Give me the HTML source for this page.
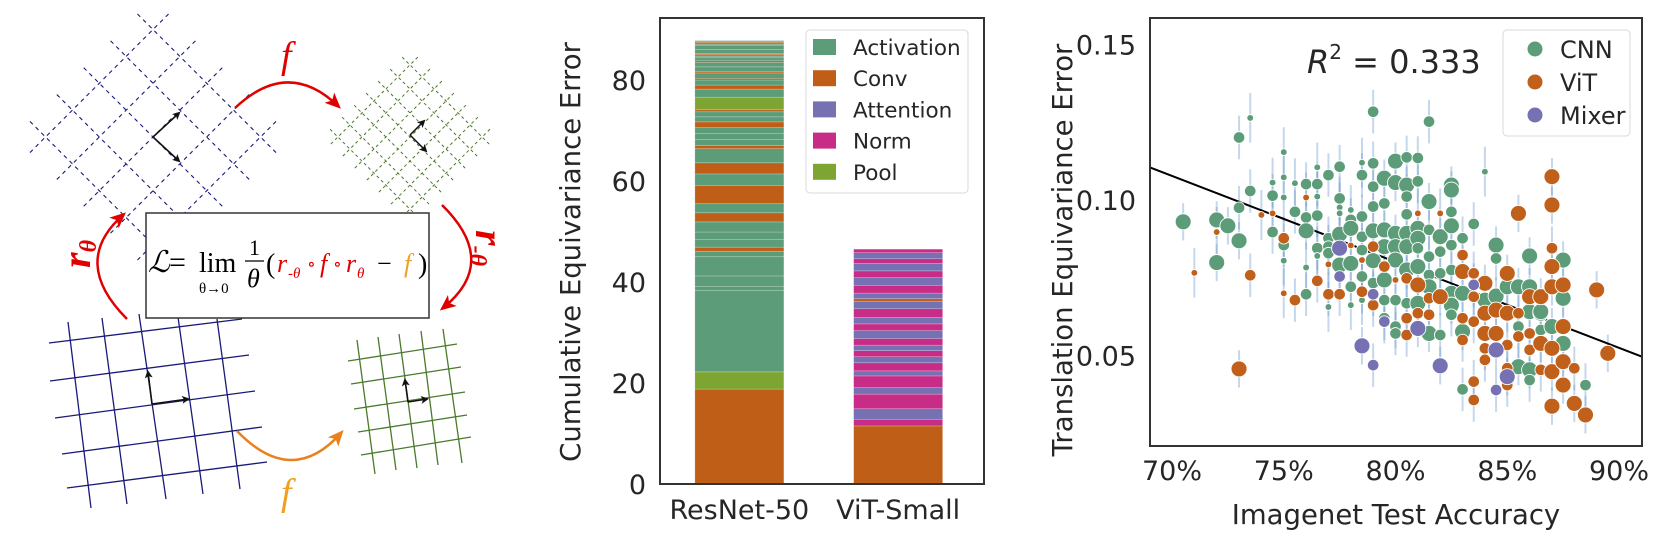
<!DOCTYPE html>
<html><head><meta charset="utf-8">
<style>
html,body{margin:0;padding:0;background:#fff;}
svg{display:block;}
text{font-family:"DejaVu Sans","Liberation Sans",sans-serif;fill:#262626;}
.serif{font-family:"Liberation Serif","DejaVu Serif",serif;}
</style></head>
<body>
<svg id="root" width="1663" height="543" viewBox="0 0 1663 543" xmlns="http://www.w3.org/2000/svg">
<defs>
<marker id="ah" markerWidth="8" markerHeight="8" refX="6" refY="4" orient="auto" markerUnits="userSpaceOnUse"><path d="M0,0 L8,4 L0,8 L2,4 z" fill="#111"/></marker>
<marker id="ahr" markerWidth="16" markerHeight="14" refX="12" refY="7" orient="auto" markerUnits="userSpaceOnUse"><path d="M0,0 L16,7 L0,14 L4,7 z" fill="#e00000"/></marker>
<marker id="aho" markerWidth="16" markerHeight="14" refX="12" refY="7" orient="auto" markerUnits="userSpaceOnUse"><path d="M0,0 L16,7 L0,14 L4,7 z" fill="#e8821e"/></marker>
</defs>

<g>
  <g id="blueDashed" transform="translate(153,137) rotate(45)" stroke="#1a1a78" stroke-width="1.1" stroke-dasharray="4,4"></g>
  <g id="greenDashed" transform="translate(410,137) rotate(45)" stroke="#4a7a2a" stroke-width="1" stroke-dasharray="3,3"></g>
  <line x1="153" y1="137" x2="179" y2="113" stroke="#111" stroke-width="1.6" marker-end="url(#ah)"/>
  <line x1="153" y1="137" x2="179" y2="161" stroke="#111" stroke-width="1.6" marker-end="url(#ah)"/>
  <line x1="410" y1="135" x2="424" y2="121" stroke="#111" stroke-width="1.5" marker-end="url(#ah)"/>
  <line x1="410" y1="135" x2="426" y2="151" stroke="#111" stroke-width="1.5" marker-end="url(#ah)"/>

  <g stroke="#1a1a78" stroke-width="1.3">
    <line x1="49" y1="343" x2="242" y2="319"/><line x1="50" y1="381" x2="249" y2="355"/>
    <line x1="55" y1="418" x2="255" y2="391"/><line x1="62" y1="454" x2="262" y2="427"/>
    <line x1="67" y1="488" x2="267" y2="462"/>
    <line x1="68" y1="322" x2="91" y2="508"/><line x1="102" y1="318" x2="127" y2="504"/>
    <line x1="139" y1="314" x2="166" y2="499"/><line x1="178" y1="317" x2="203" y2="494"/>
    <line x1="217" y1="319" x2="240" y2="489"/>
  </g>
  <line x1="152" y1="404" x2="148" y2="372" stroke="#111" stroke-width="1.6" marker-end="url(#ah)"/>
  <line x1="152" y1="404" x2="188" y2="399" stroke="#111" stroke-width="1.6" marker-end="url(#ah)"/>

  <g stroke="#4a7a2a" stroke-width="1.3">
    <line x1="348" y1="361" x2="457" y2="344"/><line x1="351" y1="384" x2="461" y2="367"/>
    <line x1="354" y1="409" x2="465" y2="392"/><line x1="358" y1="432" x2="467" y2="415"/>
    <line x1="361" y1="455" x2="471" y2="437"/>
    <line x1="357" y1="340" x2="375" y2="474"/><line x1="378" y1="337" x2="396" y2="470"/>
    <line x1="399" y1="334" x2="417" y2="468"/><line x1="421" y1="331" x2="438" y2="465"/>
    <line x1="443" y1="329" x2="462" y2="463"/>
  </g>
  <line x1="408" y1="402" x2="405" y2="380" stroke="#111" stroke-width="1.6" marker-end="url(#ah)"/>
  <line x1="408" y1="402" x2="427" y2="399" stroke="#111" stroke-width="1.6" marker-end="url(#ah)"/>

  <path d="M235,108 Q288,58 338,106" fill="none" stroke="#e00000" stroke-width="2.5" marker-end="url(#ahr)"/>
  <text x="281" y="68" class="serif" font-size="38" font-style="italic" style="fill:#e00000">f</text>
  <path d="M237,431 Q292,488 341,433" fill="none" stroke="#e8821e" stroke-width="2.5" marker-end="url(#aho)"/>
  <text x="281" y="505" class="serif" font-size="38" font-style="italic" style="fill:#f0a020">f</text>
  <path d="M127,319 Q70,262 123,215" fill="none" stroke="#e00000" stroke-width="2.5" marker-end="url(#ahr)"/>
  <text class="serif" font-size="40" font-style="italic" font-weight="bold" style="fill:#e00000" transform="translate(90,268) rotate(-90)">r<tspan font-size="24" dy="6">θ</tspan></text>
  <path d="M442,205 Q500,262 443,308" fill="none" stroke="#e00000" stroke-width="2.5" marker-end="url(#ahr)"/>
  <text class="serif" font-size="40" font-style="italic" font-weight="bold" style="fill:#e00000" transform="translate(476,230) rotate(90)">r<tspan font-size="24" dy="6">-θ</tspan></text>

  <rect x="146" y="213" width="283" height="105" fill="#fff" stroke="#333" stroke-width="1.5"/>
  <g>
    <text x="148" y="272" class="serif" font-size="30" font-style="italic" style="fill:#000">ℒ</text>
    <text x="169" y="272" class="serif" font-size="30" style="fill:#000">=</text>
    <text x="199" y="272" class="serif" font-size="28" style="fill:#000">lim</text>
    <text x="199" y="293" class="serif" font-size="15" style="fill:#000">θ→0</text>
    <text x="249" y="255" class="serif" font-size="22" style="fill:#000">1</text>
    <line x1="245" y1="261" x2="264" y2="261" stroke="#000" stroke-width="1.2"/>
    <text x="247" y="287" class="serif" font-size="26" font-style="italic" style="fill:#000">θ</text>
    <text x="266" y="273" class="serif" font-size="28" style="fill:#000">(</text>
    <text x="277" y="272" class="serif" font-size="26" font-style="italic" style="fill:#e00000">r</text>
    <text x="288" y="278" class="serif" font-size="15" font-style="italic" style="fill:#e00000">-θ</text>
    <text x="307" y="270" class="serif" font-size="18" style="fill:#e00000">∘</text>
    <text x="320" y="272" class="serif" font-size="26" font-style="italic" style="fill:#e00000">f</text>
    <text x="333" y="270" class="serif" font-size="18" style="fill:#e00000">∘</text>
    <text x="346" y="272" class="serif" font-size="26" font-style="italic" style="fill:#e00000">r</text>
    <text x="357" y="278" class="serif" font-size="15" font-style="italic" style="fill:#e00000">θ</text>
    <text x="377" y="272" class="serif" font-size="26" style="fill:#000">−</text>
    <text x="404" y="272" class="serif" font-size="26" font-style="italic" style="fill:#f0a020">f</text>
    <text x="418" y="273" class="serif" font-size="28" style="fill:#000">)</text>
  </g>
</g>

<g id="barChart"></g>
<g id="scatter"></g>
</svg>

<script>
const NS = "http://www.w3.org/2000/svg";
function mk(tag, attrs, parent){ const e=document.createElementNS(NS,tag); for(const k in attrs) e.setAttribute(k,attrs[k]); parent.appendChild(e); return e; }

(function(){
  const gB=document.getElementById('blueDashed');
  for(let i=-2;i<=2;i++){ const o=i*38;
    mk('line',{x1:o,y1:-98,x2:o,y2:98},gB); mk('line',{x1:-98,y1:o,x2:98,y2:o},gB); }
  const gG=document.getElementById('greenDashed');
  for(let i=-3;i<=3;i++){ const o=i*17;
    mk('line',{x1:o,y1:-62,x2:o,y2:62},gG); mk('line',{x1:-62,y1:o,x2:62,y2:o},gG); }
})();

const barCategories = ["ResNet-50","ViT-Small"];
const layerTypes = ["Activation","Conv","Attention","Norm","Pool"];
const resnetTypes = ["Conv","Pool","Activation","Activation","Activation","Activation","Activation","Conv","Activation","Activation","Activation","Conv","Activation","Conv","Activation","Conv","Activation","Conv","Activation","Activation","Activation","Conv","Activation","Activation","Conv","Pool","Activation","Conv","Activation","Conv","Activation","Conv","Activation","Activation","Conv","Activation","Conv","Activation","Conv","Activation","Activation","Conv","Activation","Conv","Activation"];
const resnetErrors = [18.8,3.4,16.1,0.8,2.1,3.8,1.1,0.8,1.5,1.5,2.0,1.8,1.8,3.6,2.3,2.2,2.8,0.6,1.2,1.2,1.2,1.1,1.0,1.0,0.4,2.5,1.6,0.8,1.0,0.3,1.1,0.3,0.9,0.9,0.3,0.6,0.2,0.4,0.2,0.8,0.8,0.2,0.4,0.2,0.2];
const vitTypes = ["Conv","Norm","Attention","Norm","Attention","Norm","Attention","Norm","Attention","Norm","Attention","Norm","Attention","Norm","Attention","Norm","Attention","Conv","Attention","Norm","Attention","Norm","Attention","Norm","Attention","Norm"];
const vitErrors = [11.5,1.3,2.1,2.9,1.3,2.3,1.0,1.6,1.2,1.2,1.1,1.3,1.6,1.3,1.3,1.7,1.5,0.5,1.1,1.5,1.6,1.3,1.5,0.9,1.2,0.7];
const barYTicks = [0,20,40,60,80];
const typeColors = {Activation:"#5c9c78",Conv:"#bf5f17",Attention:"#7571b2",Norm:"#c72c86",Pool:"#7ea531"};

(function(){
  const g=document.getElementById('barChart');
  const L=660,R=984,T=18,B=484, yMax=(B-T)/5.05;
  const yS=v=>B-(v/yMax)*(B-T);
  const xCenter=i=>L+(R-L)*(0.245+i*0.49);
  const bw=89;
  const stacks=[[resnetTypes,resnetErrors],[vitTypes,vitErrors]];
  stacks.forEach((s,i)=>{
    let cum=0;
    const bg=mk('g',{},g);
    
    
    s[1].forEach((v,j)=>{
      const y0=yS(cum), y1=yS(cum+v);
      const r=mk('rect',{x:xCenter(i)-bw/2,y:y1,width:bw,height:Math.max(0.6,y0-y1),fill:typeColors[s[0][j]],stroke:"rgba(255,255,255,0.35)","stroke-width":0.6},bg);
      
      
      cum+=v;
    });
    const t=mk('text',{x:xCenter(i),y:519,"font-size":27,"text-anchor":"middle"},g);
    t.textContent=barCategories[i];
    
    
  });
  barYTicks.forEach(v=>{
    const t=mk('text',{x:646,y:yS(v)+10,"font-size":27,"text-anchor":"end"},g);
    t.textContent=v;
    
    
  });
  const fr=mk('rect',{x:L,y:T,width:R-L,height:B-T,fill:"none",stroke:"#333","stroke-width":2},g);
  
  
  const yl=mk('text',{"font-size":27.5,"text-anchor":"middle",transform:"translate(580,252) rotate(-90)"},g);
  yl.textContent="Cumulative Equivariance Error";
  
  
  const lg=mk('g',{},g);
  
  
  mk('rect',{x:806,y:30,width:162,height:163,rx:4,fill:"#fff",stroke:"#d8d8d8","stroke-width":1},lg);
  layerTypes.forEach((n,i)=>{
    const yy=47+i*31.2;
    const sw=mk('rect',{x:813,y:yy-8,width:23,height:16,fill:typeColors[n]},lg);
    
    
    const t=mk('text',{x:853,y:yy+8,"font-size":21.5},lg);
    t.textContent=n;
    
    
  });
})();

const xTicks = [70,75,80,85,90];
const yTicks = [0.05,0.10,0.15];
const fitX = [69.0,91.0];
const fitY = [0.1105,0.0497];
const r2Label = "0.333";
const cnnPoints = [[70.5,.0930,'L'],[72,.0936,'L'],[72.5,.0917,'L'],[73,.0869,'L'],[72,.0799,'L'],[73,.1201,'m'],[73.5,.1264,'s'],[73.5,.1029,'m'],[73,.0975,'m'],[74.5,.1056,'s'],[74.5,.1014,'m'],[74.5,.0897,'m'],[75,.1154,'s'],[75,.1073,'s'],[75,.1008,'s'],[75,.0855,'m'],[75,.0805,'s'],[75.5,.1054,'s'],[75.5,.0962,'m'],[76,.1051,'m'],[76,.0944,'m'],[76,.0901,'L'],[76,.0783,'s'],[76,.0697,'m'],[76.5,.1105,'s'],[76.5,.1051,'m'],[76.5,.1011,'s'],[76.5,.0950,'m'],[76.5,.0845,'m'],[76.5,.0820,'s'],[77,.1080,'m'],[77,.0877,'m'],[77,.0850,'m'],[77,.0829,'m'],[77,.0656,'s'],[77.5,.1107,'m'],[77.5,.1005,'m'],[77.5,.0976,'s'],[77.5,.0957,'s'],[77.5,.0890,'L'],[77.5,.0791,'L'],[78,.0968,'s'],[78,.0936,'m'],[78,.0909,'L'],[78,.0796,'L'],[78,.0721,'m'],[78,.0662,'s'],[78.5,.1120,'s'],[78.5,.1080,'m'],[78.5,.0947,'m'],[78.5,.0882,'m'],[78.5,.0839,'m'],[78.5,.0754,'m'],[78.5,.0678,'s'],[79,.1284,'m'],[79,.1118,'m'],[79,.1043,'m'],[79,.0979,'m'],[79,.0901,'L'],[79,.0805,'L'],[79,.0733,'m'],[79.5,.1070,'L'],[79.5,.0989,'m'],[79.5,.0904,'L'],[79.5,.0850,'L'],[79.5,.0743,'L'],[79.5,.0678,'m'],[79.5,.0620,'m'],[80,.1125,'L'],[80,.1056,'L'],[80,.0893,'L'],[80,.0850,'L'],[80,.0807,'L'],[80,.0678,'m'],[80,.0593,'m'],[80,.0571,'m'],[80.5,.1137,'m'],[80.5,.1048,'L'],[80.5,.1011,'m'],[80.5,.0954,'m'],[80.5,.0893,'L'],[80.5,.0850,'L'],[80.5,.0775,'L'],[80.5,.0668,'m'],[81,.1135,'m'],[81,.1060,'m'],[81,.0909,'L'],[81,.0877,'L'],[81,.0845,'m'],[81,.0786,'L'],[81,.0668,'L'],[81.5,.1252,'m'],[81.5,.0995,'L'],[81.5,.0904,'m'],[81.5,.0818,'m'],[81.5,.0759,'m'],[81.5,.0721,'L'],[81.5,.0571,'L'],[82,.0882,'L'],[82,.0834,'m'],[82,.0764,'m'],[82,.0566,'m'],[82.5,.1048,'L'],[82.5,.1032,'L'],[82.5,.0962,'m'],[82.5,.0917,'L'],[82.5,.0855,'m'],[82.5,.0775,'m'],[82.5,.0700,'L'],[82.5,.0662,'L'],[82.5,.0631,'m'],[83,.0877,'m'],[83,.0700,'L'],[83,.0577,'L'],[83,.0391,'m'],[83.5,.0923,'m'],[84,.1091,'s'],[84,.0678,'L'],[84.5,.0855,'L'],[84.5,.0812,'m'],[84.5,.0691,'L'],[85,.0721,'L'],[85.5,.0721,'L'],[85.5,.0593,'m'],[85.5,.0464,'L'],[86,.0820,'L'],[86,.0721,'L'],[86,.0641,'L'],[86,.0454,'L'],[86,.0421,'m'],[86.5,.0636,'L'],[86.5,.0582,'m'],[86.5,.0641,'L'],[87,.0593,'L'],[87.5,.0807,'L'],[87.5,.0684,'L'],[87.5,.0539,'L'],[88.5,.0405,'m']];
const vitPoints = [[72,.0897,'s'],[71,.0766,'s'],[73.5,.0758,'m'],[73,.0457,'L'],[74,.0952,'s'],[74.5,.0957,'s'],[75,.0877,'m'],[75,.0700,'s'],[75.5,.0678,'m'],[76,.1008,'s'],[76.5,.0740,'m'],[77,.0793,'s'],[77,.0697,'m'],[77.5,.0697,'m'],[78,.0854,'s'],[78.5,.0807,'s'],[78.5,.0705,'m'],[79,.0850,'m'],[79,.0662,'m'],[79.5,.0786,'m'],[80,.0743,'s'],[80.5,.0748,'m'],[80.5,.0620,'m'],[80.5,.0566,'m'],[81,.0957,'s'],[81,.0727,'L'],[81,.0636,'m'],[81.5,.0684,'m'],[81.5,.0631,'m'],[82,.0957,'s'],[82,.0689,'L'],[83,.0823,'m'],[83,.0770,'L'],[83,.0620,'m'],[83,.0550,'m'],[83.5,.0764,'m'],[83.5,.0689,'m'],[83.5,.0609,'m'],[83.5,.0416,'m'],[83.5,.0357,'m'],[84,.0732,'L'],[84,.0636,'L'],[84,.0571,'L'],[84,.0523,'m'],[84,.0486,'m'],[84.5,.0646,'L'],[84.5,.0571,'L'],[85,.0764,'L'],[85,.0636,'L'],[85,.0534,'m'],[85,.0459,'m'],[85,.0405,'m'],[85.5,.0957,'L'],[85.5,.0636,'m'],[85.5,.0561,'m'],[86,.0689,'L'],[86,.0571,'m'],[86,.0518,'m'],[86.5,.0689,'L'],[86.5,.0539,'L'],[86.5,.0454,'m'],[87,.1075,'L'],[87,.0984,'L'],[87,.0845,'m'],[87,.0786,'L'],[87,.0721,'L'],[87,.0523,'L'],[87,.0448,'L'],[87,.0337,'L'],[87.5,.0727,'L'],[87.5,.0593,'L'],[87.5,.0480,'L'],[87.5,.0405,'L'],[88,.0459,'m'],[88,.0346,'L'],[88.5,.0309,'L'],[89,.0711,'L'],[89.5,.0507,'L']];
const mixerPoints = [[77.5,.0845,'L'],[77.5,.0754,'m'],[78.5,.0531,'L'],[79,.0697,'m'],[79,.0469,'m'],[79.5,.0609,'m'],[81,.0587,'L'],[82,.0467,'L'],[83.5,.0727,'m'],[84.5,.0518,'L'],[84.5,.0389,'m'],[85,.0432,'L']];
const familyNames = ["CNN","ViT","Mixer"];
const familyColors = ["#5c9c78","#c0601a","#7571b2"];

(function(){
  const g=document.getElementById('scatter');
  const L=1150,R=1642,T=18,B=446;
  const xS=x=>1172+(x-70)*22.35;
  const yS=y=>200-(y-0.10)*3110;
  const rad={L:8,m:5.8,s:3.4};
  const errLen={L:0.006,m:0.007,s:0.008};
  const fams=[cnnPoints,vitPoints,mixerPoints];
  const eg=mk('g',{},g);
  
  
  fams.forEach(f=>f.forEach(p=>{
    mk('line',{x1:xS(p[0]),x2:xS(p[0]),y1:yS(p[1]-errLen[p[2]]),y2:yS(p[1]+errLen[p[2]]),stroke:"rgba(110,155,210,0.4)","stroke-width":2},eg);
  }));
  const fit=mk('line',{x1:xS(fitX[0]),y1:yS(fitY[0]),x2:xS(fitX[1]),y2:yS(fitY[1]),stroke:"#000","stroke-width":2},g);
  
  
  fams.forEach((f,fi)=>{
    const pg=mk('g',{},g);
    
    
    f.forEach(p=>{
      const c=mk('circle',{cx:xS(p[0]),cy:yS(p[1]),r:rad[p[2]],fill:familyColors[fi],stroke:"#fff","stroke-width":0.9},pg);
      
      
    });
  });
  mk('rect',{x:R+1,y:0,width:30,height:543,fill:"#fff"},g);
  const fr=mk('rect',{x:L,y:T,width:R-L,height:B-T,fill:"none",stroke:"#333","stroke-width":2},g);
  
  
  xTicks.forEach(v=>{
    const t=mk('text',{x:xS(v),y:480,"font-size":27,"text-anchor":"middle"},g);
    t.textContent=v+"%";
    
    
  });
  yTicks.forEach(v=>{
    const t=mk('text',{x:1136,y:yS(v)+10,"font-size":27,"text-anchor":"end"},g);
    t.textContent=v.toFixed(2);
    
    
  });
  const xl=mk('text',{x:1396,y:524,"font-size":27.5,"text-anchor":"middle"},g);
  xl.textContent="Imagenet Test Accuracy";
  
  
  const yl=mk('text',{"font-size":27.5,"text-anchor":"middle",transform:"translate(1072,250) rotate(-90)"},g);
  yl.textContent="Translation Equivariance Error";
  
  
  const r2=mk('text',{x:1307,y:73,"font-size":32},g);
  
  
  r2.innerHTML='<tspan font-style="italic">R</tspan><tspan font-size="20" dy="-14">2</tspan><tspan dy="14"> = '+r2Label+'</tspan>';
  const lg=mk('g',{},g);
  
  
  mk('rect',{x:1503,y:30,width:127,height:106,rx:4,fill:"#fff",stroke:"#d8d8d8","stroke-width":1},lg);
  familyNames.forEach((n,i)=>{
    const yy=49+i*33;
    const c=mk('circle',{cx:1535,cy:yy,r:7.5,fill:familyColors[i]},lg);
    
    
    const t=mk('text',{x:1560,y:yy+9,"font-size":24},lg);
    t.textContent=n;
    
    
  });
})();
</script>
</body></html>
